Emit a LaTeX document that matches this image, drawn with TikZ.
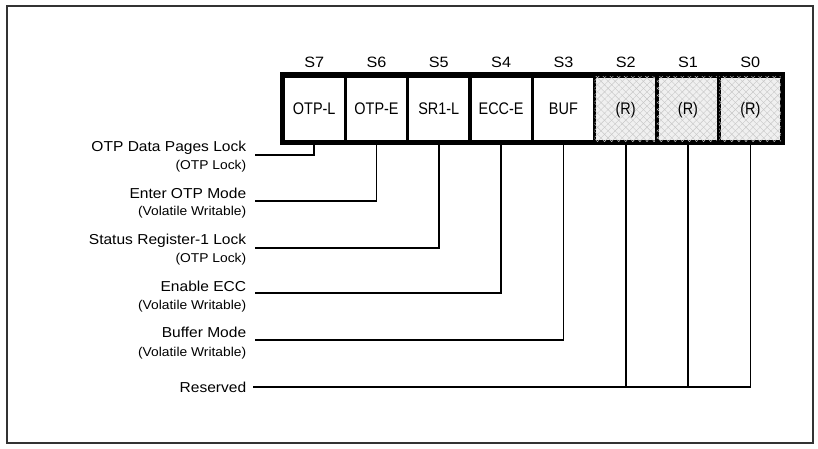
\documentclass[tikz,border=0pt]{standalone}
\usepackage{fontspec}
\setmainfont{Liberation Sans}[FakeStretch=1.08]
\newfontfamily\cellfont{Liberation Sans}[FakeStretch=0.86]
\usetikzlibrary{patterns.meta}
\begin{document}
\begin{tikzpicture}[x=1pt,y=-1pt,line width=1.6pt]
	\def \rowhead{67.5}
	\def \rowbits{109}
	\def \labx{247}
	\def \linex{255}
	\tikzstyle{b-node}=[draw,line width=3.5pt,minimum width=62.3pt,minimum height=66pt,inner sep=0pt,text height=12pt,text depth=0pt,text centered,font=\cellfont\fontsize{16.8}{18}\selectfont]
	\tikzstyle{r-node}=[b-node,fill=gray!12,
		postaction={pattern={Lines[angle=45,distance=5pt,line width=.4pt]},pattern color=gray!45},
		postaction={pattern={Lines[angle=-45,distance=5pt,line width=.4pt]},pattern color=gray!45}]
	\tikzstyle{h-node}=[anchor=base,inner sep=0pt,font=\fontsize{15}{17}\selectfont]
	\tikzstyle{annot}=[anchor=base east,inner sep=0pt,font=\fontsize{14.4}{16}\selectfont]
	\tikzstyle{subannot}=[anchor=base east,inner sep=0pt,font=\fontsize{12.8}{14}\selectfont]
	\useasboundingbox (0,0) rectangle (818,449);
	% frame
	\draw[line width=1.2pt,black!80] (7,6) rectangle (813,443);

	% status register bits
	\node[b-node] 	(b7)	at (314.2,\rowbits)	{OTP-L};
	\node[b-node] 	(b6)	at (376.5,\rowbits)	{OTP-E};
	\node[b-node] 	(b5)	at (438.8,\rowbits)	{SR1-L};
	\node[b-node] 	(b4)	at (501.1,\rowbits)	{ECC-E};
	\node[b-node] 	(b3)	at (563.4,\rowbits)	{BUF};
	\node[r-node] 	(b2)	at (625.7,\rowbits)	{(R)};
	\node[r-node] 	(b1)	at (688.0,\rowbits)	{(R)};
	\node[r-node] 	(b0)	at (750.3,\rowbits)	{(R)};
	\draw[line width=3.5pt] (b7.north west) rectangle (b0.south east);

	% bit names
	\node[h-node] 	(h7)	at (314.2,\rowhead)	{S7};
	\node[h-node] 	(h6)	at (376.5,\rowhead)	{S6};
	\node[h-node] 	(h5)	at (438.8,\rowhead)	{S5};
	\node[h-node] 	(h4)	at (501.1,\rowhead)	{S4};
	\node[h-node] 	(h3)	at (563.4,\rowhead)	{S3};
	\node[h-node] 	(h2)	at (625.7,\rowhead)	{S2};
	\node[h-node] 	(h1)	at (688.0,\rowhead)	{S1};
	\node[h-node] 	(h0)	at (750.3,\rowhead)	{S0};

	% labels
	\node[annot] 	(l7)	at (\labx,151.5)	{OTP Data Pages Lock};
	\node[subannot] (m7)	at (\labx,169)		{(OTP Lock)};
	\node[annot] 	(l6)	at (\labx,198.5)	{Enter OTP Mode};
	\node[subannot] (m6)	at (\labx,215)		{(Volatile Writable)};
	\node[annot] 	(l5)	at (\labx,244.5)	{Status Register-1 Lock};
	\node[subannot] (m5)	at (\labx,262)		{(OTP Lock)};
	\node[annot] 	(l4)	at (\labx,291.5)	{Enable ECC};
	\node[subannot] (m4)	at (\labx,309)		{(Volatile Writable)};
	\node[annot] 	(l3)	at (\labx,337.5)	{Buffer Mode};
	\node[subannot] (m3)	at (\labx,356)		{(Volatile Writable)};
	\node[annot] 	(l0)	at (\labx,392.5)	{Reserved};

	% line starts
	\coordinate (c7) at (\linex,155);
	\coordinate (c6) at (\linex,201);
	\coordinate (c5) at (\linex,248);
	\coordinate (c4) at (\linex,293);
	\coordinate (c3) at (\linex,340);
	\coordinate (c0) at (253,387);

	\draw (c7) -| (b7.south);
	\draw (c6) -| (b6.south);
	\draw (c5) -| (b5.south);
	\draw (c4) -| (b4.south);
	\draw (c3) -| (b3.south);
	%
	\draw (c0) -| (b0.south);
	\draw (b2.south) -- (b2.south |- c0);
	\draw (b1.south) -- (b1.south |- c0);
\end{tikzpicture}
\end{document}
